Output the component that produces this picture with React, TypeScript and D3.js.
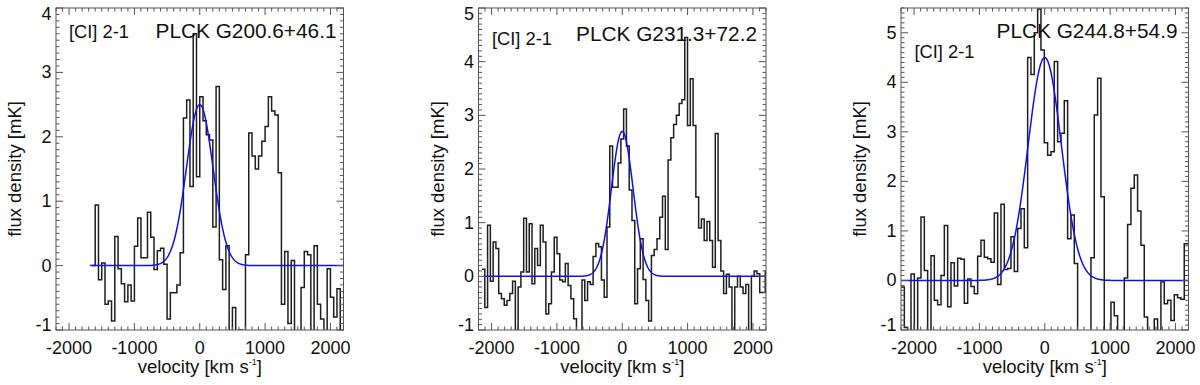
import React from "react";
import * as d3 from "d3";

// ---------- DATA ----------
const velocityTicks = [-2000, -1000, 0, 1000, 2000];
const velocityDomain = [-2200, 2200];

const panelTitles = ["PLCK G200.6+46.1", "PLCK G231.3+72.2", "PLCK G244.8+54.9"];
const lineLabel = "[CI] 2-1";

// panel 1 spectrum (mK), channels of 50 km/s starting at -1650 km/s
const p1StartVelocity = -1650;
const p1ChannelWidth = 50;
const p1Flux = [
  0.0, 0.94, -0.22, 0.04, -0.6, -0.55, -0.86, 0.45, -0.05, -0.28, -0.56, -0.3, -0.55,
  0.3, 0.74, 0.12, 0.12, 0.83, 0.44, -0.06, 0.23, 0.27, 0.02, -0.83, -0.42, -0.42,
  -0.3, 0.2, 2.29, 2.57, 1.23, 3.6, 1.38, 2.62, 2.25, 2.03, 1.95, 0.6, 2.78, 0.09,
  -0.37, 0.31, -1.3, -0.65, -1.3, -1.0, -1.3, 0.17, 2.06, 1.7, 1.5, 1.7, 1.93, 2.16,
  2.62, 2.4, 2.34, 1.44, -0.6, 0.22, -0.9, 0.08, -1.3, -1.3, -0.34, 0.22, 0.17, -1.3,
  0.31, -0.6, -0.83, -1.3, -0.05, -0.49, -0.8, -0.36, -1.0, -1.3,
];

// panel 2 spectrum (mK), channels of 42.5 km/s starting at -2146 km/s
const p2StartVelocity = -2146;
const p2ChannelWidth = 42.5;
const p2Flux = [
  0.13, -0.58, 0.95, -0.09, 0.64, 0.52, -0.32, -0.42, -0.54, -0.45, -0.32, -0.09,
  -1.3, -0.2, 0.08, 1.08, 0.08, 0.98, -0.14, 0.52, 0.2, 0.95, 0.64, -0.7, -0.51,
  0.08, 0.73, 0.42, -0.07, -0.1, 0.24, -0.17, -0.42, -0.79, -1.3, -1.3, -0.07, -0.45,
  -0.1, -0.15, 0.37, 0.61, 0.55, -0.07, -0.39,
  0.92, 2.43, 1.66, 1.66, 2.11, 2.56, 3.12, 2.43, 1.61, 1.04, -0.51, 0.14, 0.7, -0.06,
  -0.45, -0.83, 0.39, 0.5, 0.7, 1.1, 1.49, 0.5, 2.17, 2.58, 2.83, 3.0, 3.22, 3.29,
  4.45, 2.81, 3.68, 2.81, 1.48, 0.9, 1.07, 0.67, 1.02, 0.67, 0.17, 2.66, 0.67, 0.1,
  -0.32, 0.04, -0.2, -1.3, -0.2, 0.0, -0.2, -0.32, -0.15, -1.3, 0.0, 0.1, 0.05, -0.3,
  -0.3, 0.1,
];

// panel 3 spectrum (mK), channels of 51 km/s starting at -2200 km/s
const p3StartVelocity = -2200;
const p3ChannelWidth = 51;
const p3Flux = [
  -0.13, -0.95, -1.3, 0.13, -1.3, 0.05, 1.28, 0.2, -1.3, 0.5, -0.4, -0.49, 0.1,
  1.11, -0.53, 0.36, -0.11, 0.45, 0.43, -0.46, 0.03, -0.12, -0.27, 0.49, 0.81, 0.47,
  0.44, 0.37, 1.36, -0.08, 1.54, 0.22, 0.24, 0.88, 0.18, 1.05, 1.45, 0.66, 4.5,
  4.16, 5.0, 5.48, 4.65, 2.78, 2.53, 2.6, 4.42, 2.8, 2.97, 3.63, 0.84, 1.32, 0.34,
  -1.3, -1.3, -1.3, -1.3, 0.46, 3.34, 4.08, 1.69, -1.3, -1.3, -0.44, -0.71, -1.3,
  -1.3, 0.05, 1.13, 1.86, 2.13, 1.4, 0.71, -0.74, -1.3, -1.3, -0.78, -1.3, -0.03,
  -0.47, -0.4, -0.81, -0.29, -0.35, -0.38, 0.74, 0.74,
];

// y axis (flux density) domains and ticks
const p1FluxDomain = [-1, 4];
const p2FluxDomain = [-1, 5];
const p3FluxDomain = [-1, 5.5];
const p1FluxTicks = [-1, 0, 1, 2, 3, 4];
const p2FluxTicks = [-1, 0, 1, 2, 3, 4, 5];
const p3FluxTicks = [-1, 0, 1, 2, 3, 4, 5];

// gaussian fits: amplitude (mK), centre & FWHM (km/s), start of drawn fit
const fitAmplitude = [2.5, 2.7, 4.5];
const fitCentre = [0, 0, 0];
const fitFwhm = [480, 390, 600];
const fitStartVelocity = [-1680, -2120, -2200];

// ---------- LAYOUT ----------
const W = 1200;
const H = 385;
const PLOT_TOP = 8;
const PLOT_BOTTOM = 330;
const PLOT_W = 287.5;
const PANEL_LEFT = [56, 478.5, 901];
// text positions, relative to plot left/top
const TITLE_POS = [
  { right: 7, y: 37.5 },
  { right: 9, y: 40.5 },
  { right: 11, y: 37.5 },
];
const LABEL_POS = [
  { left: 13, y: 37.5 },
  { left: 13.5, y: 45 },
  { left: 13.5, y: 57.5 },
];

const FONT = "'Liberation Sans', Arial, Helvetica, sans-serif";
const AXIS_COLOR = "#555";

const panels = [
  {
    flux: p1Flux, start: p1StartVelocity, width: p1ChannelWidth,
    domain: p1FluxDomain, ticks: p1FluxTicks,
  },
  {
    flux: p2Flux, start: p2StartVelocity, width: p2ChannelWidth,
    domain: p2FluxDomain, ticks: p2FluxTicks,
  },
  {
    flux: p3Flux, start: p3StartVelocity, width: p3ChannelWidth,
    domain: p3FluxDomain, ticks: p3FluxTicks,
  },
];

function Panel({ idx }: { idx: number }) {
  const cfg = panels[idx];
  const left = PANEL_LEFT[idx];
  const right = left + PLOT_W;
  const x = d3.scaleLinear().domain(velocityDomain).range([left, right]);
  const y = d3.scaleLinear().domain(cfg.domain).range([PLOT_BOTTOM, PLOT_TOP]);

  const stepPts: [number, number][] = cfg.flux.map((v, i) => [cfg.start + i * cfg.width, v]);
  stepPts.push([cfg.start + cfg.flux.length * cfg.width, cfg.flux[cfg.flux.length - 1]]);
  const stepPath = d3
    .line<[number, number]>()
    .x((d) => x(d[0]))
    .y((d) => y(d[1]))
    .curve(d3.curveStepAfter)(stepPts);

  const sigma = fitFwhm[idx] / 2.3548;
  const fitV = d3.range(fitStartVelocity[idx], velocityDomain[1] + 1, 5);
  const fitPts: [number, number][] = fitV.map((v) => [
    v,
    fitAmplitude[idx] * Math.exp(-0.5 * ((v - fitCentre[idx]) / sigma) ** 2),
  ]);
  const fitPath = d3
    .line<[number, number]>()
    .x((d) => x(d[0]))
    .y((d) => y(d[1]))
    .curve(d3.curveLinear)(fitPts);

  const xMinor = d3.range(-2200, 2201, 100).filter((v) => v % 1000 !== 0);
  const yMinor: number[] = [];
  for (let k = Math.ceil(cfg.domain[0] * 10); k <= Math.floor(cfg.domain[1] * 10); k++) {
    if (k % 10 !== 0) yMinor.push(k / 10);
  }
  const MAJ = 7;
  const MIN = 3.5;
  const clipId = `clip-${idx}`;

  const yLabelPos = (t: number) =>
    Math.min(Math.max(y(t), PLOT_TOP + 6), PLOT_BOTTOM - 5);

  return (
    <g>
      <defs>
        <clipPath id={clipId}>
          <rect x={left} y={PLOT_TOP} width={PLOT_W} height={PLOT_BOTTOM - PLOT_TOP} />
        </clipPath>
      </defs>
      <g clipPath={`url(#${clipId})`}>
        <path d={stepPath || ""} fill="none" stroke="#1e1e1e" strokeWidth={1.5} />
        <path d={fitPath || ""} fill="none" stroke="#1010f0" strokeWidth={1.5} />
      </g>
      {/* frame */}
      <rect
        x={left}
        y={PLOT_TOP}
        width={PLOT_W}
        height={PLOT_BOTTOM - PLOT_TOP}
        fill="none"
        stroke={AXIS_COLOR}
        strokeWidth={1}
      />
      {/* x ticks bottom/top */}
      {velocityTicks.map((t) => (
        <g key={`xm${t}`}>
          <line x1={x(t)} x2={x(t)} y1={PLOT_BOTTOM} y2={PLOT_BOTTOM - MAJ} stroke={AXIS_COLOR} />
          <line x1={x(t)} x2={x(t)} y1={PLOT_TOP} y2={PLOT_TOP + MAJ} stroke={AXIS_COLOR} />
          <text
            x={x(t)}
            y={PLOT_BOTTOM + 24}
            textAnchor="middle"
            fontFamily={FONT}
            fontSize={18}
            fill="#111"
          >
            {String(t)}
          </text>
        </g>
      ))}
      {xMinor.map((t) => (
        <g key={`xn${t}`}>
          <line x1={x(t)} x2={x(t)} y1={PLOT_BOTTOM} y2={PLOT_BOTTOM - MIN} stroke={AXIS_COLOR} />
          <line x1={x(t)} x2={x(t)} y1={PLOT_TOP} y2={PLOT_TOP + MIN} stroke={AXIS_COLOR} />
        </g>
      ))}
      {/* y ticks left/right */}
      {cfg.ticks.map((t) => (
        <g key={`ym${t}`}>
          <line x1={left} x2={left + MAJ} y1={y(t)} y2={y(t)} stroke={AXIS_COLOR} />
          <line x1={right} x2={right - MAJ} y1={y(t)} y2={y(t)} stroke={AXIS_COLOR} />
          <text
            x={left - 4.5}
            y={yLabelPos(t)}
            textAnchor="end"
            dominantBaseline="central"
            fontFamily={FONT}
            fontSize={18}
            fill="#111"
          >
            {String(t)}
          </text>
        </g>
      ))}
      {yMinor.map((t) => (
        <g key={`yn${t}`}>
          <line x1={left} x2={left + MIN} y1={y(t)} y2={y(t)} stroke={AXIS_COLOR} />
          <line x1={right} x2={right - MIN} y1={y(t)} y2={y(t)} stroke={AXIS_COLOR} />
        </g>
      ))}
      {/* axis titles */}
      <text
        x={(left + right) / 2}
        y={373}
        textAnchor="middle"
        fontFamily={FONT}
        fontSize={18.5}
        fill="#111"
      >
        velocity [km s
        <tspan fontSize={9} dy={-8}>-1</tspan>
        <tspan dy={8}>]</tspan>
      </text>
      <text
        transform={`translate(${left - 35},${(PLOT_TOP + PLOT_BOTTOM) / 2}) rotate(-90)`}
        textAnchor="middle"
        fontFamily={FONT}
        fontSize={18.5}
        fill="#111"
      >
        flux density [mK]
      </text>
      {/* annotations */}
      <text
        x={left + LABEL_POS[idx].left}
        y={LABEL_POS[idx].y}
        fontFamily={FONT}
        fontSize={18.3}
        fill="#111"
      >
        {lineLabel}
      </text>
      <text
        x={right - TITLE_POS[idx].right}
        y={TITLE_POS[idx].y}
        textAnchor="end"
        fontFamily={FONT}
        fontSize={20.8}
        fill="#111"
      >
        {panelTitles[idx]}
      </text>
    </g>
  );
}

export default function App() {
  return (
    <svg
      width={W}
      height={H}
      viewBox={`0 0 ${W} ${H}`}
      style={{ position: "absolute", left: 0, top: 0, background: "#fff" }}
    >
      <rect x={0} y={0} width={W} height={H} fill="#fff" />
      {[0, 1, 2].map((i) => (
        <Panel key={i} idx={i} />
      ))}
    </svg>
  );
}
